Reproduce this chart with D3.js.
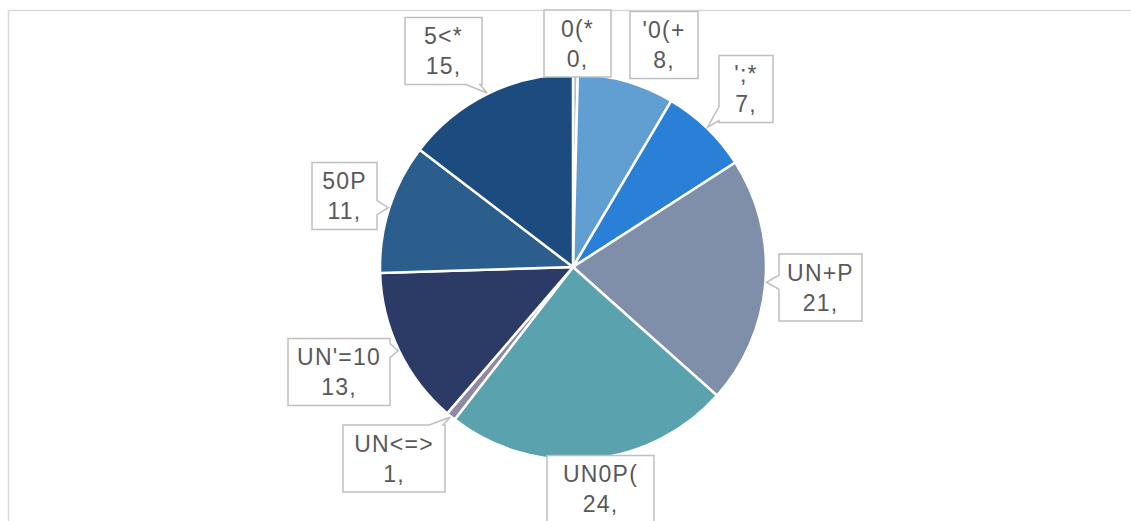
<!DOCTYPE html>
<html>
<head>
<meta charset="utf-8">
<title>Pie with callouts</title>
<style>
body {
  margin: 0;
  background: #ffffff;
  font-family: "Liberation Sans", Arial, sans-serif;
}

svg {
  display: block;
}

path.slice {
  stroke: #ffffff;
  stroke-width: 2.5px;
}

.callout path {
  fill: #ffffff;
  stroke: #bfbfbf;
  stroke-width: 1.5px;
}

.callout text {
  fill: #595959;
  font-size: 23px;
  letter-spacing: 1.2px;
  text-anchor: middle;
}
</style>
<script src="https://d3js.org/d3.v7.min.js"></script>
</head>
<body>
<div id="result"></div>
<script>
// slices clockwise from 12 o'clock
var categories = ["0(*", "'0(+", "';*", "UN+P", "UN0P(", "UN<=>", "UN'=10", "50P", "5<*"]
var values = [0.4, 8.1, 7.4, 20.7, 23.9, 0.8, 13.2, 10.9, 14.6]
var colors = ["#a9bcd6", "#619ed2", "#2a7fd7", "#7f8fa9", "#5aa3ae", "#9188a2", "#2c3b65", "#2b5e8c", "#1c4b80"]

// callout boxes: centre offset from pie centre, width
var boxes = {
  "0(*":   {dx: 4.5,    dy: -223.5, w: 67},
  "'0(+":  {dx: 91,     dy: -222,   w: 68},
  "';*":   {dx: 173,    dy: -178,   w: 54},
  "UN+P":  {dx: 247.5,  dy: 20.5,   w: 83},
  "UN0P(": {dx: 27.5,   dy: 222,    w: 107},
  "UN<=>": {dx: -179,   dy: 191.5,  w: 102},
  "UN'=10":{dx: -234,   dy: 105,    w: 102},
  "50P":   {dx: -228.5, dy: -71,    w: 65},
  "5<*":   {dx: -129.5, dy: -216,   w: 77}
}

var width = 1131, height = 521
var cx = 573, cy = 267, radius = 193

var svg = d3.select('#result').append('svg').attr('width', width).attr('height', height)

// chart area border
svg.append('rect')
  .attr('x', 8.5).attr('y', 10.5)
  .attr('width', width).attr('height', height)
  .attr('fill', 'none').attr('stroke', '#d9d9d9').attr('stroke-width', 1.5)

var data = categories.map((c, i) => ({name: c, value: values[i], color: colors[i]}))

var pie = d3.pie().sort(null).value(d => d.value)
var arc = d3.arc().innerRadius(0).outerRadius(radius)
var edge = d3.arc().innerRadius(radius + 1).outerRadius(radius + 1)

var g = svg.append('g').attr('transform', `translate(${cx},${cy})`)

var arcs = pie(data)

g.selectAll('path.slice').data(arcs).enter().append('path')
  .attr('class', 'slice')
  .attr('d', arc)
  .attr('fill', d => d.data.color)

// box outline with a wedge pointing at the slice edge
function calloutPath(b, tip) {
  var x0 = b.x0, x1 = b.x1, y0 = b.y0, y1 = b.y1
  var tx = tip[0], ty = tip[1]
  var half = 7
  var clamp = (v, a, z) => Math.max(a, Math.min(z, v))
  var side = null
  if (tx >= x0 && tx <= x1 && ty >= y0 && ty <= y1) side = null
  else {
    var ox = tx < x0 ? x0 - tx : (tx > x1 ? tx - x1 : 0)
    var oy = ty < y0 ? y0 - ty : (ty > y1 ? ty - y1 : 0)
    if (ox > oy) side = tx < x0 ? 'left' : 'right'
    else side = ty < y0 ? 'top' : 'bottom'
    if (Math.max(ox, oy) < 4) side = null
  }
  var p = d3.path()
  p.moveTo(x0, y0)
  if (side == 'top') {
    var m = clamp(tx, x0 + half + 2, x1 - half - 2)
    p.lineTo(m - half, y0); p.lineTo(tx, ty); p.lineTo(m + half, y0)
  }
  p.lineTo(x1, y0)
  if (side == 'right') {
    var m = clamp(ty, y0 + half + 2, y1 - half - 2)
    p.lineTo(x1, m - half); p.lineTo(tx, ty); p.lineTo(x1, m + half)
  }
  p.lineTo(x1, y1)
  if (side == 'bottom') {
    var m = clamp(tx, x0 + half + 2, x1 - half - 2)
    p.lineTo(m + half, y1); p.lineTo(tx, ty); p.lineTo(m - half, y1)
  }
  p.lineTo(x0, y1)
  if (side == 'left') {
    var m = clamp(ty, y0 + half + 2, y1 - half - 2)
    p.lineTo(x0, m + half); p.lineTo(tx, ty); p.lineTo(x0, m - half)
  }
  p.closePath()
  return p.toString()
}

var boxH = 67

var callouts = g.selectAll('g.callout').data(arcs).enter().append('g').attr('class', 'callout')

callouts.each(function(d) {
  var el = d3.select(this)
  var bx = boxes[d.data.name]
  var b = {x0: bx.dx - bx.w / 2, x1: bx.dx + bx.w / 2, y0: bx.dy - boxH / 2, y1: bx.dy + boxH / 2}
  var tip = edge.centroid(d)
  el.append('path').attr('d', calloutPath(b, tip))
  el.append('text').attr('x', bx.dx).attr('y', bx.dy - 7).text(d.data.name)
  el.append('text').attr('x', bx.dx).attr('y', bx.dy + 23).text(Math.round(d.data.value) + ',')
})
</script>
</body>
</html>
